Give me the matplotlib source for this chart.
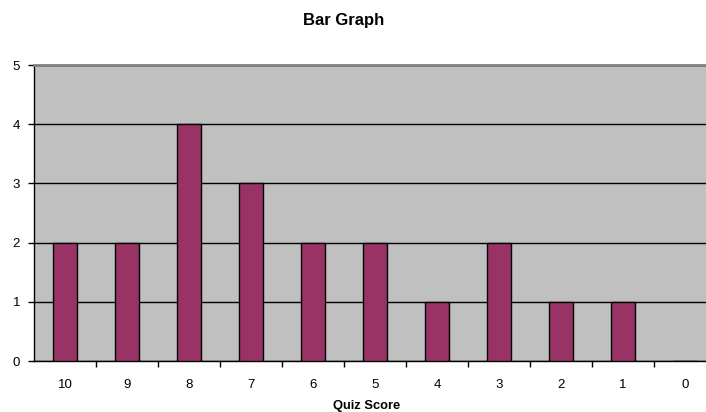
import numpy as np
import matplotlib.pyplot as plt

scores = ['10', '9', '8', '7', '6', '5', '4', '3', '2', '1', '0']
counts = [2, 2, 4, 3, 2, 2, 1, 2, 1, 1, 0]

fig = plt.figure(figsize=(7.06, 4.12), dpi=100)
# plot area runs past the right edge of the figure
ax = fig.add_axes([34 / 706, 51 / 412, 682 / 706, 296 / 412])
ax.set_facecolor('#C0C0C0')

x = np.arange(len(scores))
ax.bar(x, counts, width=0.4, color='#993366', edgecolor='black', linewidth=1, zorder=3)

ax.set_xlim(-0.5, len(scores) - 0.5)
ax.set_ylim(0, 5)
ax.set_yticks(range(6))
ax.yaxis.grid(True, color='black', linewidth=1, zorder=1)
ax.set_axisbelow(True)

ax.set_xticks(x)
ax.set_xticklabels(scores)
ax.set_xticks(np.arange(len(scores)) + 0.5, minor=True)
ax.tick_params(axis='x', which='major', length=0, pad=13, labelsize=9.5)
ax.tick_params(axis='x', which='minor', length=4, width=1, direction='out')
ax.tick_params(axis='y', length=4, width=1, labelsize=9.5, pad=6)

ax.spines['right'].set_visible(False)
ax.spines['top'].set_color('#808080')
ax.spines['top'].set_linewidth(2)
ax.spines['left'].set_linewidth(1)
ax.spines['bottom'].set_linewidth(1)

ax.set_xlabel('Quiz Score', fontsize=9.3, fontweight='bold')
ax.xaxis.set_label_coords((367 - 34) / 682, -0.132)
fig.text(344 / 706, 1 - 20 / 412, 'Bar Graph', ha='center', va='center',
         fontsize=12, fontweight='bold', family='Liberation Sans')
for t in ax.get_xticklabels() + ax.get_yticklabels():
    t.set_family('Liberation Sans')
ax.xaxis.label.set_family('Liberation Sans')

fig.savefig('out.png', dpi=100)
